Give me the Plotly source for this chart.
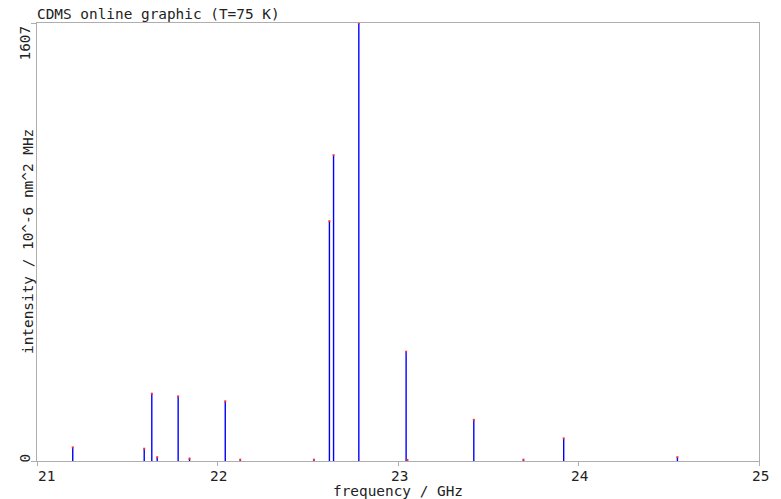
import plotly.graph_objects as go

# Line list (frequency in GHz, intensity in 10^-6 nm^2 MHz)
freqs = [21.198, 21.594, 21.636, 21.666, 21.782, 21.845, 22.043, 22.126, 22.534,
         22.620, 22.643, 22.783, 23.045, 23.052, 23.420, 23.695, 23.918, 24.548]
intens = [50, 45, 247, 14, 237, 9, 219, 5, 5,
          880, 1122, 1607, 401, 4, 151, 5, 83, 14]

x_ticks = [21, 22, 23, 24, 25]
x_tick_labels = ["21", "22", "23", "24", "25"]
y_ticks = [0, 1607]
y_tick_labels = ["0", "1607"]

title_text = "CDMS online graphic (T=75 K)"
x_title = "frequency / GHz"
y_title = "intensity / 10^-6 nm^2 MHz"

FONT = "DejaVu Sans Mono"
FS = 14.4
GRAY = "#aeaeae"
TXT = "#222222"

fig = go.Figure()
for f, v in zip(freqs, intens):
    fig.add_trace(go.Scatter(x=[f, f], y=[0, v], mode="lines",
                             line=dict(color="#0000ff", width=1.4),
                             hoverinfo="skip", showlegend=False))
fig.add_trace(go.Scatter(x=freqs, y=intens, mode="markers",
                         marker=dict(symbol="square", size=2, color="#ff3030",
                                     line=dict(width=0)),
                         showlegend=False))

annotations = []
for t, lab in zip(x_ticks, x_tick_labels):
    annotations.append(dict(x=t, y=0, xref="x", yref="paper", text=lab,
                            showarrow=False, yanchor="top",
                            xanchor="left" if t == x_ticks[0] else "center",
                            xshift=-1 if t == x_ticks[0] else 1,
                            yshift=-5, font=dict(family=FONT, size=FS, color=TXT)))
for t, lab in zip(y_ticks, y_tick_labels):
    annotations.append(dict(x=0, y=t, xref="paper", yref="y", text=lab,
                            showarrow=False, textangle=-90, xanchor="right",
                            yanchor="top" if t == y_ticks[-1] else "bottom",
                            xshift=-3, yshift=-1 if t == y_ticks[-1] else -4,
                            font=dict(family=FONT, size=FS, color=TXT)))
# axis titles
annotations.append(dict(x=0.5, y=0, xref="paper", yref="paper", text=x_title,
                        showarrow=False, xanchor="center", yanchor="middle",
                        yshift=-30, font=dict(family=FONT, size=FS, color=TXT)))
annotations.append(dict(x=0, y=0.5, xref="paper", yref="paper", text=y_title,
                        showarrow=False, xanchor="center", yanchor="middle",
                        textangle=-90, xshift=-9,
                        font=dict(family=FONT, size=FS, color=TXT)))

fig.update_layout(
    width=781, height=499,
    margin=dict(l=37, r=22, t=23, b=38),
    paper_bgcolor="white", plot_bgcolor="white",
    title=dict(text=title_text, x=37/781, xanchor="left", xref="container",
               y=1 - 14/499, yanchor="middle", yref="container",
               font=dict(family=FONT, size=FS, color=TXT)),
    xaxis=dict(range=[21, 25], tickvals=x_ticks, showticklabels=False,
               ticks="outside", ticklen=4, tickcolor=GRAY, tickwidth=1,
               showline=True, mirror=True, linecolor=GRAY, linewidth=1,
               showgrid=False, zeroline=False),
    yaxis=dict(range=[0, 1607], tickvals=y_ticks, showticklabels=False,
               ticks="outside", ticklen=5, tickcolor=GRAY, tickwidth=1,
               showline=True, mirror=True, linecolor=GRAY, linewidth=1,
               showgrid=False, zeroline=False),
    annotations=annotations,
)

fig.write_html("out.html")
